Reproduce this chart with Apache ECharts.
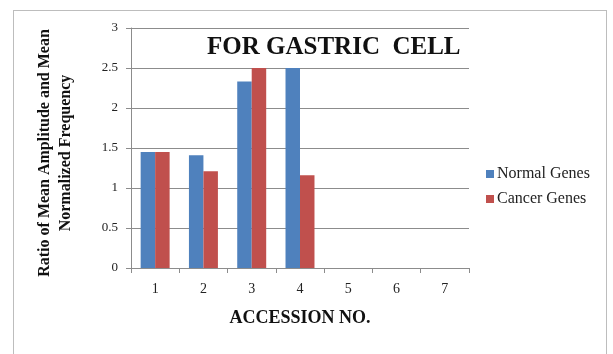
<!DOCTYPE html>
<html>
<head>
<meta charset="utf-8">
<script src="https://cdn.jsdelivr.net/npm/echarts@6/dist/echarts.min.js"></script>
<style>
  html, body { margin: 0; padding: 0; background: #fff; }
  #frame { position: absolute; left: 13px; top: 10px; width: 594px; height: 350px; border: 1px solid #bdbdbd; box-sizing: border-box; }
  #chart { position: absolute; left: 0; top: 0; width: 613px; height: 354px; }
</style>
</head>
<body>
<div id="frame"></div>
<div id="chart"></div>
<script>
// Accession numbers along the x axis
const categories = ['1', '2', '3', '4', '5', '6', '7'];
// Ratio values per accession
const normalGenes = [1.45, 1.41, 2.33, 2.5, null, null, null];
const cancerGenes = [1.45, 1.21, 2.5, 1.16, null, null, null];
const yTicks = [0, 0.5, 1, 1.5, 2, 2.5, 3];

const serif = '"Liberation Serif", "Times New Roman", serif';
const chart = echarts.init(document.getElementById('chart'), null, { renderer: 'canvas' });

chart.setOption({
  animation: false,
  backgroundColor: 'transparent',
  title: {
    text: 'FOR GASTRIC  CELL',
    left: 202,
    top: 30,
    textStyle: { fontFamily: serif, fontWeight: 'bold', fontSize: 25, color: '#111' }
  },
  legend: {
    orient: 'vertical',
    left: 481,
    top: 161,
    itemWidth: 8,
    itemHeight: 8,
    itemGap: 9,
    icon: 'rect',
    textStyle: { fontFamily: serif, fontSize: 16, color: '#222', padding: [0, 0, 0, -2] },
    data: ['Normal Genes', 'Cancer Genes']
  },
  grid: { left: 131, right: 144, top: 28, bottom: 86, containLabel: false },
  xAxis: {
    type: 'category',
    data: categories,
    name: 'ACCESSION NO.',
    nameLocation: 'middle',
    nameGap: 41,
    nameTextStyle: { fontFamily: serif, fontWeight: 'bold', fontSize: 18, color: '#111' },
    axisLine: { lineStyle: { color: '#8c8c8c', width: 1 } },
    axisTick: { show: true, length: 5, lineStyle: { color: '#8c8c8c' } },
    axisLabel: { fontFamily: serif, fontSize: 14, color: '#222', margin: 14 }
  },
  yAxis: {
    type: 'value',
    min: yTicks[0],
    max: yTicks[yTicks.length - 1],
    interval: 0.5,
    name: 'Ratio of Mean Amplitude and Mean\nNormalized Frequency',
    nameLocation: 'middle',
    nameGap: 55,
    nameRotate: 90,
    nameTextStyle: {
      fontFamily: serif, fontWeight: 'bold', fontSize: 16, color: '#111',
      lineHeight: 21, padding: [0, 10, 0, 0]
    },
    axisLine: { show: true, lineStyle: { color: '#8c8c8c', width: 1 } },
    axisTick: { show: true, length: 5, lineStyle: { color: '#8c8c8c' } },
    axisLabel: { fontFamily: serif, fontSize: 13, color: '#222', margin: 13 },
    splitLine: { show: true, lineStyle: { color: '#8c8c8c', width: 1 } }
  },
  series: [
    {
      name: 'Normal Genes',
      type: 'bar',
      data: normalGenes,
      itemStyle: { color: '#4F81BD' },
      barGap: '0%',
      barCategoryGap: '40%'
    },
    {
      name: 'Cancer Genes',
      type: 'bar',
      data: cancerGenes,
      itemStyle: { color: '#C0504D' }
    }
  ]
});
</script>
</body>
</html>
